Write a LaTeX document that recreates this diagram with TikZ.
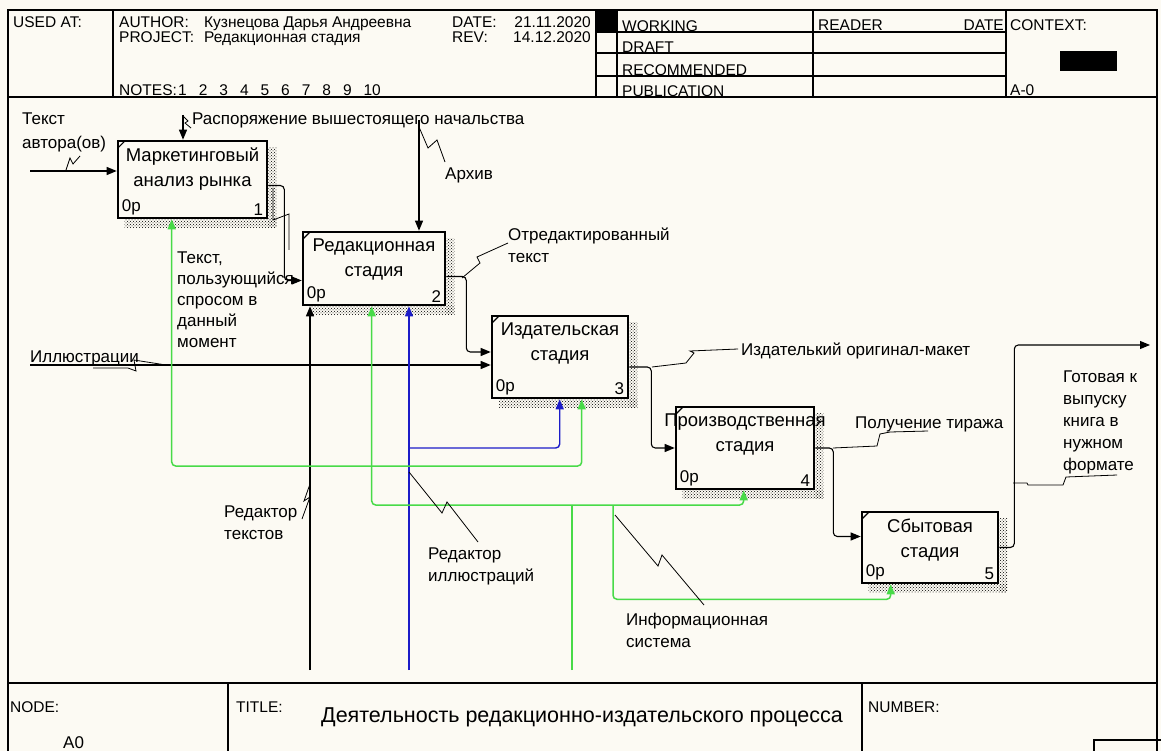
\documentclass[tikz,border=0pt]{standalone}
\usepackage{fontspec}
\setmainfont{Liberation Sans}
\usetikzlibrary{positioning, calc}
\usetikzlibrary{arrows.meta}
\usetikzlibrary{patterns}
\definecolor{paper}{RGB}{252,250,243}
\definecolor{mgreen}{RGB}{72,218,72}
\definecolor{mblue}{RGB}{28,28,200}
\newcommand{\idefsize}{\fontsize{17}{22}\selectfont}
\newcommand{\headsize}{\fontsize{15.5}{18}\selectfont}
\newcommand{\boxsize}{\fontsize{18.5}{25}\selectfont}
\newcommand{\titlesize}{\fontsize{21.5}{26}\selectfont}

\tikzset{
  frameline/.style={line width=1.2pt},
  proc/.style={draw, line width=2.6pt, fill=paper, inner sep=0pt},
  flow/.style={line width=1.1pt, rounded corners=4pt, -{Triangle[length=10pt,width=8pt]}},
  gflow/.style={flow, line width=1.5pt, draw=mgreen},
  bflow/.style={flow, line width=1.4pt, draw=mblue},
  squig/.style={line width=0.8pt},
  txt/.style={inner sep=0pt, anchor=base west},
  head/.style={txt, font=\headsize},
  ml/.style={inner sep=0pt, anchor=north west, align=left}
}

\begin{document}
\begin{tikzpicture}[x=1pt, y=-1pt, font=\idefsize]

\useasboundingbox (0,0) rectangle (1161,751);
\fill[paper] (0,0) rectangle (1161,751);
\clip (0,0) rectangle (1161,751);

% --- Рамка и шапка ---
\draw[line width=1.4pt] (8,770) -- (8,10) -- (1157,10) -- (1157,770);
\draw[frameline] (8,97) -- (1157,97);
\foreach \x in {113,596,617,813,1006}{
  \draw[frameline] (\x,10) -- (\x,97);
}
\foreach \y in {32,53,76}{
  \draw[frameline] (596,\y) -- (1006,\y);
}
\fill (596,10) rectangle (617,32);
\fill (1060,51) rectangle (1117,71);

\node[head] (usedat) at (13,28) {USED AT:};
\node[head] (author) at (119,28) {AUTHOR:};
\node[head] (authname) at (204,28) {Кузнецова Дарья Андреевна};
\node[head] (date) at (452,28) {DATE:};
\node[head, anchor=base east] (datev) at (591,28) {21.11.2020};
\node[head] (project) at (119,43) {PROJECT:};
\node[head] (projname) at (204,43) {Редакционная стадия};
\node[head] (rev) at (452,43) {REV:};
\node[head, anchor=base east] (revdate) at (591,43) {14.12.2020};
\node[head] (notes) at (119,96) {NOTES:};
\foreach \i in {1,...,10}{
  \node[head] (note\i) at ({178+(\i-1)*20.6},96) {\i};
}
\foreach \s/\y in {WORKING/32, DRAFT/53, RECOMMENDED/76, PUBLICATION/97}{
  \node[head] (st-\s) at (622,\y) {\s};
}
\node[head] (reader) at (818,31) {READER};
\node[head, anchor=base east] (rdate) at (1004,31) {DATE};
\node[head] (context) at (1010,31) {CONTEXT:};
\node[head] (ctxnode) at (1010,96) {A-0};

% --- Нижний штамп ---
\draw[frameline] (8,683) -- (1157,683);
\foreach \x in {228,862}{
  \draw[frameline] (\x,683) -- (\x,770);
}
\draw[frameline] (1094,740) rectangle (1170,770);
\node[head] (nodelbl) at (10,712) {NODE:};
\node[txt] (nodeid) at (63,748) {A0};
\node[head] (titlelbl) at (236,712) {TITLE:};
\node[txt, font=\titlesize] (title) at (321,722) {Деятельность редакционно-издательского процесса};
\node[head] (numlbl) at (868,712) {NUMBER:};

% --- Блоки ---
\foreach \n/\cx/\cy/\w/\h/\t/\k in {
  b1/192.5/179.5/149/77/{Маркетинговый\\анализ рынка}/1,
  b2/374/268.5/142/73/{Редакционная\\стадия}/2,
  b3/560/357/136/82/{Издательская\\стадия}/3,
  b4/745/448/138/82/{Производственная\\стадия}/4,
  b5/930/547.5/136/71/{Сбытовая\\стадия}/5}{
  \node[proc, minimum width=\w pt, minimum height=\h pt,
    label={[name=\n-t, anchor=north, align=center, inner sep=0pt, yshift=-8pt, font=\boxsize]north:\t},
    label={[name=\n-o, anchor=south west, inner sep=0pt, xshift=5pt, yshift=4pt]south west:0р},
    label={[name=\n-k, anchor=south east, inner sep=0pt, xshift=-5pt, yshift=4pt]south east:\k}] (\n) at (\cx,\cy) {};
  % тень и уголок
  \fill[pattern=crosshatch dots, pattern color=black] ($(\n.north east)+(0,8)$) rectangle ($(\n.south east)+(8,8)$);
  \fill[pattern=crosshatch dots, pattern color=black] ($(\n.south west)+(8,0)$) rectangle ($(\n.south east)+(8,8)$);
  \draw[line width=1.2pt] ($(\n.north west)+(1.5,8)$) -- ($(\n.north west)+(8,1.5)$);
}

% --- Свободные концы стрелок ---
\coordinate (in1) at (30,171);
\coordinate (in2) at (30,365);
\coordinate (c1) at (183,115);
\coordinate (c2) at (419,120);
\coordinate (m1) at (310,670);
\coordinate (m2) at (409,670);
\coordinate (m3) at (572,670);
\coordinate (out) at (1150,345);
\coordinate (bj) at (409,448);
\coordinate (gj) at (572,505);
\coordinate (gk) at (373,466);
\coordinate (gl) at (613,505);

% --- Входы, управление, выходы ---
\draw[flow] (in1) -- (in1 -| b1.west);
\draw[flow] (c1) -- (c1 |- b1.north);
\draw[flow] (c2) -- (c2 |- b2.north);
\draw[flow] ($(b1.east)+(0,6)$) -- ++(16,0) |- ($(b2.west)+(0,12)$);
\draw[flow] ($(b2.east)+(0,8)$) -- ++(20,0) |- ($(b3.west)+(0,-5)$);
\draw[flow] (in2) -- (in2 -| b3.west);
\draw[flow] ($(b3.east)+(0,10)$) -- ++(22,0) |- (b4.west);
\draw[flow] (b4.east) -- ++(18,0) |- ($(b5.west)+(0,-11)$);
\draw[flow] (b5.east) -- ++(15,0) |- (out);

% --- Механизмы ---
\draw[flow] (m1) -- (m1 |- b2.south);
\draw[bflow] (m2) -- (m2 |- b2.south);
\draw[bflow] (bj) -| ($(b3.south west)+(69,0)$);
\draw[gflow, -] (m3) -- (gj);
\draw[gflow] (gj) -| ($(b2.south west)+(70,0)$);
\draw[gflow] (gj) -| ($(b4.south west)+(69,0)$);
\draw[gflow] (gk) -| ($(b1.south west)+(55,0)$);
\draw[gflow] (gk) -| ($(b3.south west)+(91,0)$);
\draw[gflow] (gl) |- ($(b5.south west)+(30,15)$) -- ($(b5.south west)+(30,0)$);

% --- Подписи стрелок ---
\node[ml, font=\fontsize{17}{24}\selectfont] (lin1) at (22,113) {Текст\\автора(ов)};
\node[txt] (lc1) at (192,125) {Распоряжение вышестоящего начальства};
\node[txt] (lc2) at (445,180) {Архив};
\node[ml, font=\fontsize{17}{21}\selectfont] (lo1) at (177,252) {Текст,\\пользующийся\\спросом в\\данный\\момент};
\node[ml] (lo2) at (508,228) {Отредактированный\\текст};
\node[txt] (lin2) at (30,362) {Иллюстрации};
\node[txt] (lo3) at (741,355) {Издателький оригинал-макет};
\node[txt] (lo4) at (855,428) {Получение тиража};
\node[ml] (lo5) at (1063,371) {Готовая к\\выпуску\\книга в\\нужном\\формате};
\node[ml] (lm1) at (224,506) {Редактор\\текстов};
\node[ml] (lm2) at (428,548) {Редактор\\иллюстраций};
\node[ml] (lm3) at (626,613) {Информационная\\система};

% --- Молнии (тильды) ---
\draw[squig] (66,170) -- (70,158) -- (73,164) -- (80,156);
\draw[squig] (183,116) -- (188,121) -- (185,123) -- (191,128);
\draw[squig] (419,127) -- (428,148) -- (437,140) -- (445,162);
\draw[squig] (273,188) -- (273,220) -- (289,214) -- (289,250);
\draw[squig] (462,278) -- (480,263) -- (477,257) -- (508,243);
\draw[squig] (93,368) -- (128,368) -- (136,371) -- (134,360) -- (166,365);
\draw[squig] (652,367) -- (686,363) -- (694,353) -- (690,351) -- (738,349);
\draw[squig] (833,448) -- (877,446) -- (880,434) -- (890,432) -- (928,431);
\draw[squig] (1013,483) -- (1027,483) -- (1028,485) -- (1063,485) -- (1066,477) -- (1117,475);
\draw[squig] (310,484) -- (304,501) -- (310,497) -- (302,519);
\draw[squig] (409,472) -- (442,513) -- (447,502) -- (478,542);
\draw[squig] (615,515) -- (658,566) -- (662,555) -- (704,605);

\end{tikzpicture}
\end{document}
